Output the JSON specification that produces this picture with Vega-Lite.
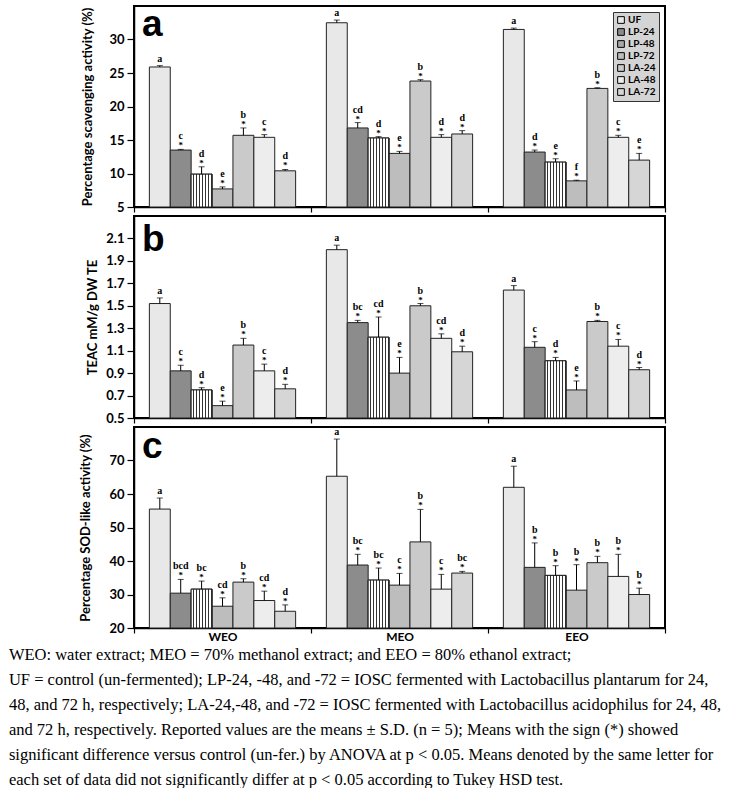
{
  "$schema": "https://vega.github.io/schema/vega-lite/v6.json",
  "background": "white",
  "padding": {"left": 8, "top": 5, "right": 0, "bottom": 0},
  "spacing": 0,
  "title": {
    "text": "WEO: water extract; MEO = 70% methanol extract; and EEO = 80% ethanol extract;",
    "subtitle": [
      "UF = control (un-fermented); LP-24, -48, and -72 = IOSC fermented with Lactobacillus plantarum for 24,",
      "48, and 72 h, respectively; LA-24,-48, and -72 = IOSC fermented with Lactobacillus acidophilus for 24, 48,",
      "and 72 h, respectively. Reported values are the means ± S.D. (n = 5); Means with the sign (*) showed",
      "significant difference versus control (un-fer.) by ANOVA at p < 0.05. Means denoted by the same letter for",
      "each set of data did not significantly differ at p < 0.05 according to Tukey HSD test."
    ],
    "orient": "bottom",
    "anchor": "start",
    "frame": "bounds",
    "dx": -70,
    "offset": 4,
    "font": "Liberation Serif",
    "fontSize": 16.5,
    "fontWeight": "normal",
    "color": "black",
    "subtitleFont": "Liberation Serif",
    "subtitleFontSize": 16.5,
    "subtitleColor": "black",
    "subtitleLineHeight": 25,
    "subtitlePadding": 8
  },
  "data": {"values": [
    {"p":"a","ext":"WEO","grp":"UF","v":25.9,"e":26.1,"lt":"a","s":""},
    {"p":"a","ext":"WEO","grp":"LP-24","v":13.5,"e":13.6,"lt":"c","s":"*"},
    {"p":"a","ext":"WEO","grp":"LP-48","v":9.9,"e":11.0,"lt":"d","s":"*"},
    {"p":"a","ext":"WEO","grp":"LP-72","v":7.7,"e":8.0,"lt":"e","s":"*"},
    {"p":"a","ext":"WEO","grp":"LA-24","v":15.7,"e":16.8,"lt":"b","s":"*"},
    {"p":"a","ext":"WEO","grp":"LA-48","v":15.4,"e":15.8,"lt":"c","s":"*"},
    {"p":"a","ext":"WEO","grp":"LA-72","v":10.4,"e":10.6,"lt":"d","s":"*"},
    {"p":"a","ext":"MEO","grp":"UF","v":32.5,"e":32.9,"lt":"a","s":""},
    {"p":"a","ext":"MEO","grp":"LP-24","v":16.8,"e":17.6,"lt":"cd","s":"*"},
    {"p":"a","ext":"MEO","grp":"LP-48","v":15.3,"e":15.5,"lt":"d","s":"*"},
    {"p":"a","ext":"MEO","grp":"LP-72","v":13.0,"e":13.3,"lt":"e","s":"*"},
    {"p":"a","ext":"MEO","grp":"LA-24","v":23.8,"e":24.0,"lt":"b","s":"*"},
    {"p":"a","ext":"MEO","grp":"LA-48","v":15.4,"e":15.8,"lt":"d","s":"*"},
    {"p":"a","ext":"MEO","grp":"LA-72","v":15.9,"e":16.4,"lt":"d","s":"*"},
    {"p":"a","ext":"EEO","grp":"UF","v":31.5,"e":31.7,"lt":"a","s":""},
    {"p":"a","ext":"EEO","grp":"LP-24","v":13.2,"e":13.5,"lt":"d","s":"*"},
    {"p":"a","ext":"EEO","grp":"LP-48","v":11.7,"e":12.2,"lt":"e","s":"*"},
    {"p":"a","ext":"EEO","grp":"LP-72","v":8.9,"e":9.0,"lt":"f","s":"*"},
    {"p":"a","ext":"EEO","grp":"LA-24","v":22.7,"e":22.8,"lt":"b","s":"*"},
    {"p":"a","ext":"EEO","grp":"LA-48","v":15.4,"e":15.7,"lt":"c","s":"*"},
    {"p":"a","ext":"EEO","grp":"LA-72","v":12.0,"e":13.0,"lt":"e","s":"*"},
    {"p":"b","ext":"WEO","grp":"UF","v":1.52,"e":1.57,"lt":"a","s":""},
    {"p":"b","ext":"WEO","grp":"LP-24","v":0.92,"e":0.97,"lt":"c","s":"*"},
    {"p":"b","ext":"WEO","grp":"LP-48","v":0.75,"e":0.77,"lt":"d","s":"*"},
    {"p":"b","ext":"WEO","grp":"LP-72","v":0.61,"e":0.65,"lt":"e","s":"*"},
    {"p":"b","ext":"WEO","grp":"LA-24","v":1.15,"e":1.21,"lt":"b","s":"*"},
    {"p":"b","ext":"WEO","grp":"LA-48","v":0.92,"e":0.98,"lt":"c","s":"*"},
    {"p":"b","ext":"WEO","grp":"LA-72","v":0.76,"e":0.80,"lt":"d","s":"*"},
    {"p":"b","ext":"MEO","grp":"UF","v":2.0,"e":2.04,"lt":"a","s":""},
    {"p":"b","ext":"MEO","grp":"LP-24","v":1.35,"e":1.37,"lt":"bc","s":"*"},
    {"p":"b","ext":"MEO","grp":"LP-48","v":1.22,"e":1.40,"lt":"cd","s":"*"},
    {"p":"b","ext":"MEO","grp":"LP-72","v":0.90,"e":1.04,"lt":"e","s":"*"},
    {"p":"b","ext":"MEO","grp":"LA-24","v":1.50,"e":1.52,"lt":"b","s":"*"},
    {"p":"b","ext":"MEO","grp":"LA-48","v":1.21,"e":1.25,"lt":"cd","s":"*"},
    {"p":"b","ext":"MEO","grp":"LA-72","v":1.09,"e":1.14,"lt":"d","s":"*"},
    {"p":"b","ext":"EEO","grp":"UF","v":1.64,"e":1.68,"lt":"a","s":""},
    {"p":"b","ext":"EEO","grp":"LP-24","v":1.13,"e":1.18,"lt":"c","s":"*"},
    {"p":"b","ext":"EEO","grp":"LP-48","v":1.01,"e":1.04,"lt":"d","s":"*"},
    {"p":"b","ext":"EEO","grp":"LP-72","v":0.75,"e":0.83,"lt":"e","s":"*"},
    {"p":"b","ext":"EEO","grp":"LA-24","v":1.36,"e":1.37,"lt":"b","s":"*"},
    {"p":"b","ext":"EEO","grp":"LA-48","v":1.14,"e":1.20,"lt":"c","s":"*"},
    {"p":"b","ext":"EEO","grp":"LA-72","v":0.93,"e":0.95,"lt":"d","s":"*"},
    {"p":"c","ext":"WEO","grp":"UF","v":55.5,"e":58.8,"lt":"a","s":""},
    {"p":"c","ext":"WEO","grp":"LP-24","v":30.4,"e":34.5,"lt":"bcd","s":"*"},
    {"p":"c","ext":"WEO","grp":"LP-48","v":31.6,"e":34.0,"lt":"bc","s":"*"},
    {"p":"c","ext":"WEO","grp":"LP-72","v":26.5,"e":29.0,"lt":"cd","s":"*"},
    {"p":"c","ext":"WEO","grp":"LA-24","v":33.7,"e":34.7,"lt":"b","s":"*"},
    {"p":"c","ext":"WEO","grp":"LA-48","v":28.2,"e":31.0,"lt":"cd","s":"*"},
    {"p":"c","ext":"WEO","grp":"LA-72","v":25.0,"e":26.9,"lt":"d","s":"*"},
    {"p":"c","ext":"MEO","grp":"UF","v":65.3,"e":76.4,"lt":"a","s":""},
    {"p":"c","ext":"MEO","grp":"LP-24","v":38.8,"e":42.0,"lt":"bc","s":"*"},
    {"p":"c","ext":"MEO","grp":"LP-48","v":34.3,"e":37.9,"lt":"bc","s":"*"},
    {"p":"c","ext":"MEO","grp":"LP-72","v":32.8,"e":36.3,"lt":"c","s":"*"},
    {"p":"c","ext":"MEO","grp":"LA-24","v":45.7,"e":55.4,"lt":"b","s":"*"},
    {"p":"c","ext":"MEO","grp":"LA-48","v":31.6,"e":36.0,"lt":"c","s":"*"},
    {"p":"c","ext":"MEO","grp":"LA-72","v":36.4,"e":36.9,"lt":"bc","s":"*"},
    {"p":"c","ext":"EEO","grp":"UF","v":62.0,"e":68.3,"lt":"a","s":""},
    {"p":"c","ext":"EEO","grp":"LP-24","v":38.1,"e":45.4,"lt":"b","s":"*"},
    {"p":"c","ext":"EEO","grp":"LP-48","v":35.7,"e":38.6,"lt":"b","s":"*"},
    {"p":"c","ext":"EEO","grp":"LP-72","v":31.3,"e":38.9,"lt":"b","s":"*"},
    {"p":"c","ext":"EEO","grp":"LA-24","v":39.5,"e":41.4,"lt":"b","s":"*"},
    {"p":"c","ext":"EEO","grp":"LA-48","v":35.4,"e":42.0,"lt":"b","s":"*"},
    {"p":"c","ext":"EEO","grp":"LA-72","v":30.0,"e":31.9,"lt":"b","s":"*"}
  ]},
  "resolve": {"scale": {"x": "independent", "y": "independent", "xOffset": "independent", "color": "shared"}, "legend": {"color": "independent"}},
  "vconcat": [
    {
      "width": 531, "height": 201,
      "layer": [
        {
          "transform": [{"filter": "datum.p === 'a'"}],
          "encoding": {
            "x": {"field": "ext", "type": "nominal", "sort": ["WEO","MEO","EEO"], "scale": {"paddingInner": 0, "paddingOuter": 0}, "axis": {"labels": false, "title": null, "tickBand": "extent", "tickSize": 5}},
            "xOffset": {"field": "grp", "type": "nominal", "sort": ["UF","LP-24","LP-48","LP-72","LA-24","LA-48","LA-72"], "scale": {"paddingInner": 0, "paddingOuter": 0.735}}
          },
          "layer": [
            {"mark": {"type": "bar", "stroke": "#222", "strokeWidth": 1},
             "encoding": {
               "y": {"field": "v", "type": "quantitative", "scale": {"domain": [5, 35], "zero": false, "nice": false}, "axis": {"values": [5,10,15,20,25,30], "tickCount": 10, "labelOverlap": false, "title": "Percentage scavenging activity (%)", "titlePadding": 14}},
               "y2": {"datum": 5},
               "color": {"field": "grp", "type": "nominal", "sort": ["UF","LP-24","LP-48","LP-72","LA-24","LA-48","LA-72"], "scale": {"domain": ["UF","LP-24","LP-48","LP-72","LA-24","LA-48","LA-72"], "range": ["#e8e8e8","#8c8c8c","#a8a8a8","#bdbdbd","#cacaca","#ededed","#d6d6d6"]},
                 "legend": {"title": null, "orient": "top-right", "offset": 6}}
             }},
            {"transform": [{"filter": "datum.grp === 'LP-48'"}],
             "mark": {"type": "bar", "stroke": "#222", "strokeWidth": 1, "fill": {"gradient": "linear", "x1": 0, "y1": 0, "x2": 1, "y2": 0, "stops": [
               {"offset":0,"color":"#ffffff"},{"offset":0.089,"color":"#ffffff"},{"offset":0.089,"color":"#333333"},{"offset":0.143,"color":"#333333"},
               {"offset":0.143,"color":"#ffffff"},{"offset":0.231,"color":"#ffffff"},{"offset":0.231,"color":"#333333"},{"offset":0.286,"color":"#333333"},
               {"offset":0.286,"color":"#ffffff"},{"offset":0.374,"color":"#ffffff"},{"offset":0.374,"color":"#333333"},{"offset":0.429,"color":"#333333"},
               {"offset":0.429,"color":"#ffffff"},{"offset":0.517,"color":"#ffffff"},{"offset":0.517,"color":"#333333"},{"offset":0.571,"color":"#333333"},
               {"offset":0.571,"color":"#ffffff"},{"offset":0.66,"color":"#ffffff"},{"offset":0.66,"color":"#333333"},{"offset":0.714,"color":"#333333"},
               {"offset":0.714,"color":"#ffffff"},{"offset":0.803,"color":"#ffffff"},{"offset":0.803,"color":"#333333"},{"offset":0.857,"color":"#333333"},
               {"offset":0.857,"color":"#ffffff"},{"offset":0.946,"color":"#ffffff"},{"offset":0.946,"color":"#333333"},{"offset":1,"color":"#333333"}]}},
             "encoding": {"y": {"field": "v", "type": "quantitative"}, "y2": {"datum": 5}}},
            {"mark": {"type": "rule", "color": "black", "strokeWidth": 1},
             "encoding": {"y": {"field": "v", "type": "quantitative"}, "y2": {"field": "e"}}},
            {"mark": {"type": "tick", "color": "black", "size": 6, "thickness": 1},
             "encoding": {"y": {"field": "e", "type": "quantitative"}}},
            {"transform": [{"filter": "datum.s === '*'"}],
             "mark": {"type": "text", "font": "Liberation Serif", "fontSize": 9, "fontWeight": "bold", "dy": -1, "baseline": "alphabetic", "color": "black"},
             "encoding": {"y": {"field": "e", "type": "quantitative"}, "text": {"field": "s"}}},
            {"transform": [{"filter": "datum.s === '*'"}],
             "mark": {"type": "text", "font": "Liberation Serif", "fontSize": 10, "fontWeight": "bold", "dy": -10, "baseline": "alphabetic", "color": "black"},
             "encoding": {"y": {"field": "e", "type": "quantitative"}, "text": {"field": "lt"}}},
            {"transform": [{"filter": "datum.s !== '*'"}],
             "mark": {"type": "text", "font": "Liberation Serif", "fontSize": 10, "fontWeight": "bold", "dy": -4, "baseline": "alphabetic", "color": "black"},
             "encoding": {"y": {"field": "e", "type": "quantitative"}, "text": {"field": "lt"}}}
          ]
        },
        {
          "data": {"values": [{"panel": "a"}]},
          "mark": {"type": "text", "font": "Liberation Sans", "fontSize": 37, "fontWeight": "bold", "align": "left", "baseline": "alphabetic", "dx": 8, "dy": 30, "color": "black"},
          "encoding": {
            "x": {"datum": "WEO", "type": "nominal", "bandPosition": 0},
            "y": {"datum": 35, "type": "quantitative"},
            "text": {"field": "panel"}
          }
        }
      ]
    },
    {
      "width": 531, "height": 202,
      "layer": [
        {
          "transform": [{"filter": "datum.p === 'b'"}],
          "encoding": {
            "x": {"field": "ext", "type": "nominal", "sort": ["WEO","MEO","EEO"], "scale": {"paddingInner": 0, "paddingOuter": 0}, "axis": {"labels": false, "title": null, "tickBand": "extent", "tickSize": 5}},
            "xOffset": {"field": "grp", "type": "nominal", "sort": ["UF","LP-24","LP-48","LP-72","LA-24","LA-48","LA-72"], "scale": {"paddingInner": 0, "paddingOuter": 0.735}}
          },
          "layer": [
            {"mark": {"type": "bar", "stroke": "#222", "strokeWidth": 1},
             "encoding": {
               "y": {"field": "v", "type": "quantitative", "scale": {"domain": [0.5, 2.3], "zero": false, "nice": false}, "axis": {"values": [0.5,0.7,0.9,1.1,1.3,1.5,1.7,1.9,2.1], "tickCount": 12, "labelOverlap": false, "format": ".1f", "title": "TEAC  mM/g DW TE", "titlePadding": 6}},
               "y2": {"datum": 0.5},
               "color": {"field": "grp", "type": "nominal", "sort": ["UF","LP-24","LP-48","LP-72","LA-24","LA-48","LA-72"], "scale": {"domain": ["UF","LP-24","LP-48","LP-72","LA-24","LA-48","LA-72"], "range": ["#e8e8e8","#8c8c8c","#a8a8a8","#bdbdbd","#cacaca","#ededed","#d6d6d6"]}, "legend": null}
             }},
            {"transform": [{"filter": "datum.grp === 'LP-48'"}],
             "mark": {"type": "bar", "stroke": "#222", "strokeWidth": 1, "fill": {"gradient": "linear", "x1": 0, "y1": 0, "x2": 1, "y2": 0, "stops": [
               {"offset":0,"color":"#ffffff"},{"offset":0.089,"color":"#ffffff"},{"offset":0.089,"color":"#333333"},{"offset":0.143,"color":"#333333"},
               {"offset":0.143,"color":"#ffffff"},{"offset":0.231,"color":"#ffffff"},{"offset":0.231,"color":"#333333"},{"offset":0.286,"color":"#333333"},
               {"offset":0.286,"color":"#ffffff"},{"offset":0.374,"color":"#ffffff"},{"offset":0.374,"color":"#333333"},{"offset":0.429,"color":"#333333"},
               {"offset":0.429,"color":"#ffffff"},{"offset":0.517,"color":"#ffffff"},{"offset":0.517,"color":"#333333"},{"offset":0.571,"color":"#333333"},
               {"offset":0.571,"color":"#ffffff"},{"offset":0.66,"color":"#ffffff"},{"offset":0.66,"color":"#333333"},{"offset":0.714,"color":"#333333"},
               {"offset":0.714,"color":"#ffffff"},{"offset":0.803,"color":"#ffffff"},{"offset":0.803,"color":"#333333"},{"offset":0.857,"color":"#333333"},
               {"offset":0.857,"color":"#ffffff"},{"offset":0.946,"color":"#ffffff"},{"offset":0.946,"color":"#333333"},{"offset":1,"color":"#333333"}]}},
             "encoding": {"y": {"field": "v", "type": "quantitative"}, "y2": {"datum": 0.5}}},
            {"mark": {"type": "rule", "color": "black", "strokeWidth": 1},
             "encoding": {"y": {"field": "v", "type": "quantitative"}, "y2": {"field": "e"}}},
            {"mark": {"type": "tick", "color": "black", "size": 6, "thickness": 1},
             "encoding": {"y": {"field": "e", "type": "quantitative"}}},
            {"transform": [{"filter": "datum.s === '*'"}],
             "mark": {"type": "text", "font": "Liberation Serif", "fontSize": 9, "fontWeight": "bold", "dy": -1, "baseline": "alphabetic", "color": "black"},
             "encoding": {"y": {"field": "e", "type": "quantitative"}, "text": {"field": "s"}}},
            {"transform": [{"filter": "datum.s === '*'"}],
             "mark": {"type": "text", "font": "Liberation Serif", "fontSize": 10, "fontWeight": "bold", "dy": -10, "baseline": "alphabetic", "color": "black"},
             "encoding": {"y": {"field": "e", "type": "quantitative"}, "text": {"field": "lt"}}},
            {"transform": [{"filter": "datum.s !== '*'"}],
             "mark": {"type": "text", "font": "Liberation Serif", "fontSize": 10, "fontWeight": "bold", "dy": -4, "baseline": "alphabetic", "color": "black"},
             "encoding": {"y": {"field": "e", "type": "quantitative"}, "text": {"field": "lt"}}}
          ]
        },
        {
          "data": {"values": [{"panel": "b"}]},
          "mark": {"type": "text", "font": "Liberation Sans", "fontSize": 37, "fontWeight": "bold", "align": "left", "baseline": "alphabetic", "dx": 8, "dy": 35, "color": "black"},
          "encoding": {
            "x": {"datum": "WEO", "type": "nominal", "bandPosition": 0},
            "y": {"datum": 2.3, "type": "quantitative"},
            "text": {"field": "panel"}
          }
        }
      ]
    },
    {
      "width": 531, "height": 201,
      "layer": [
        {
          "transform": [{"filter": "datum.p === 'c'"}],
          "encoding": {
            "x": {"field": "ext", "type": "nominal", "sort": ["WEO","MEO","EEO"], "scale": {"paddingInner": 0, "paddingOuter": 0}, "axis": {"labels": true, "title": null, "tickBand": "extent", "tickSize": 5, "labelAngle": 0, "labelPadding": -2}},
            "xOffset": {"field": "grp", "type": "nominal", "sort": ["UF","LP-24","LP-48","LP-72","LA-24","LA-48","LA-72"], "scale": {"paddingInner": 0, "paddingOuter": 0.735}}
          },
          "layer": [
            {"mark": {"type": "bar", "stroke": "#222", "strokeWidth": 1},
             "encoding": {
               "y": {"field": "v", "type": "quantitative", "scale": {"domain": [20, 80], "zero": false, "nice": false}, "axis": {"values": [20,30,40,50,60,70], "tickCount": 10, "labelOverlap": false, "title": "Percentage SOD-like activity (%)", "titlePadding": 16}},
               "y2": {"datum": 20},
               "color": {"field": "grp", "type": "nominal", "sort": ["UF","LP-24","LP-48","LP-72","LA-24","LA-48","LA-72"], "scale": {"domain": ["UF","LP-24","LP-48","LP-72","LA-24","LA-48","LA-72"], "range": ["#e8e8e8","#8c8c8c","#a8a8a8","#bdbdbd","#cacaca","#ededed","#d6d6d6"]}, "legend": null}
             }},
            {"transform": [{"filter": "datum.grp === 'LP-48'"}],
             "mark": {"type": "bar", "stroke": "#222", "strokeWidth": 1, "fill": {"gradient": "linear", "x1": 0, "y1": 0, "x2": 1, "y2": 0, "stops": [
               {"offset":0,"color":"#ffffff"},{"offset":0.089,"color":"#ffffff"},{"offset":0.089,"color":"#333333"},{"offset":0.143,"color":"#333333"},
               {"offset":0.143,"color":"#ffffff"},{"offset":0.231,"color":"#ffffff"},{"offset":0.231,"color":"#333333"},{"offset":0.286,"color":"#333333"},
               {"offset":0.286,"color":"#ffffff"},{"offset":0.374,"color":"#ffffff"},{"offset":0.374,"color":"#333333"},{"offset":0.429,"color":"#333333"},
               {"offset":0.429,"color":"#ffffff"},{"offset":0.517,"color":"#ffffff"},{"offset":0.517,"color":"#333333"},{"offset":0.571,"color":"#333333"},
               {"offset":0.571,"color":"#ffffff"},{"offset":0.66,"color":"#ffffff"},{"offset":0.66,"color":"#333333"},{"offset":0.714,"color":"#333333"},
               {"offset":0.714,"color":"#ffffff"},{"offset":0.803,"color":"#ffffff"},{"offset":0.803,"color":"#333333"},{"offset":0.857,"color":"#333333"},
               {"offset":0.857,"color":"#ffffff"},{"offset":0.946,"color":"#ffffff"},{"offset":0.946,"color":"#333333"},{"offset":1,"color":"#333333"}]}},
             "encoding": {"y": {"field": "v", "type": "quantitative"}, "y2": {"datum": 20}}},
            {"mark": {"type": "rule", "color": "black", "strokeWidth": 1},
             "encoding": {"y": {"field": "v", "type": "quantitative"}, "y2": {"field": "e"}}},
            {"mark": {"type": "tick", "color": "black", "size": 6, "thickness": 1},
             "encoding": {"y": {"field": "e", "type": "quantitative"}}},
            {"transform": [{"filter": "datum.s === '*'"}],
             "mark": {"type": "text", "font": "Liberation Serif", "fontSize": 9, "fontWeight": "bold", "dy": -1, "baseline": "alphabetic", "color": "black"},
             "encoding": {"y": {"field": "e", "type": "quantitative"}, "text": {"field": "s"}}},
            {"transform": [{"filter": "datum.s === '*'"}],
             "mark": {"type": "text", "font": "Liberation Serif", "fontSize": 10, "fontWeight": "bold", "dy": -10, "baseline": "alphabetic", "color": "black"},
             "encoding": {"y": {"field": "e", "type": "quantitative"}, "text": {"field": "lt"}}},
            {"transform": [{"filter": "datum.s !== '*'"}],
             "mark": {"type": "text", "font": "Liberation Serif", "fontSize": 10, "fontWeight": "bold", "dy": -4, "baseline": "alphabetic", "color": "black"},
             "encoding": {"y": {"field": "e", "type": "quantitative"}, "text": {"field": "lt"}}}
          ]
        },
        {
          "data": {"values": [{"panel": "c"}]},
          "mark": {"type": "text", "font": "Liberation Sans", "fontSize": 37, "fontWeight": "bold", "align": "left", "baseline": "alphabetic", "dx": 8, "dy": 31, "color": "black"},
          "encoding": {
            "x": {"datum": "WEO", "type": "nominal", "bandPosition": 0},
            "y": {"datum": 80, "type": "quantitative"},
            "text": {"field": "panel"}
          }
        }
      ]
    }
  ],
  "config": {
    "view": {"stroke": "black", "strokeWidth": 2},
    "axis": {"domainColor": "black", "domainWidth": 1.5, "tickColor": "black", "tickWidth": 1.2, "grid": false, "labelFont": "Lato", "labelFontWeight": "bold", "labelFontSize": 13, "labelColor": "black", "labelOverlap": false, "titleFont": "Lato", "titleFontWeight": "bold", "titleFontSize": 13, "titleColor": "black"},
    "axisX": {"labelFontSize": 12},
    "axisY": {"tickSize": 7, "labelPadding": 3},
    "legend": {"fillColor": "#d4d4d4", "strokeColor": "#333333", "padding": 3, "symbolType": "square", "symbolSize": 45, "symbolStrokeColor": "black", "symbolStrokeWidth": 1, "labelFont": "Lato", "labelFontWeight": "bold", "labelFontSize": 10, "labelColor": "black", "labelOffset": 2, "rowPadding": 0, "symbolOpacity": 1}
  }
}
